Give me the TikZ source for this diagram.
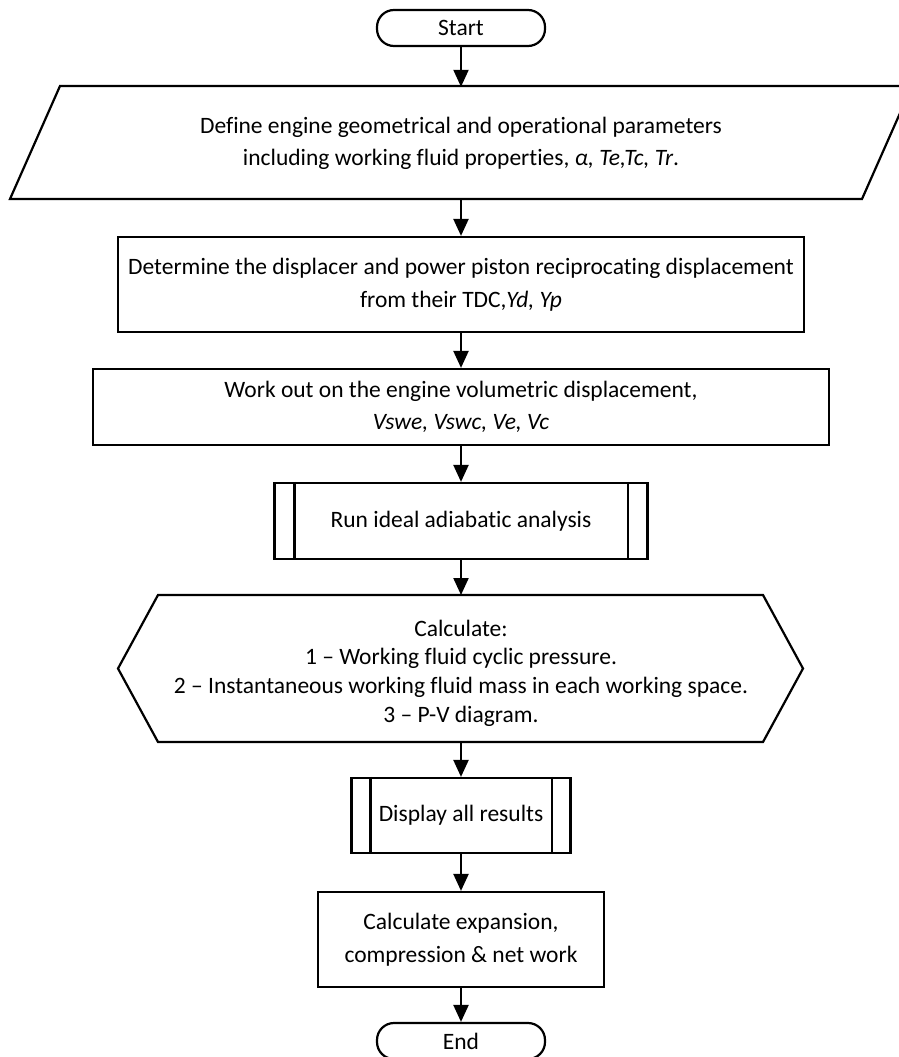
\documentclass[tikz,border=0pt]{standalone}
\usepackage{fontspec}
\setmainfont{Carlito}[Ligatures=NoCommon]
\usetikzlibrary{arrows.meta}
\begin{document}
\begin{tikzpicture}[x=1pt,y=-1pt,
  every node/.style={font=\fontsize{23.5}{32.5}\selectfont, align=center, inner sep=0pt},
  box/.style={draw, line width=2.2pt, rectangle},
  term/.style={draw, line width=2.2pt, rounded corners=17pt, minimum width=168pt, minimum height=36pt},
  flow/.style={line width=2.2pt, -{Triangle[length=17pt,width=15pt]}},
  outline/.style={draw, line width=2.2pt, line join=miter}]
\useasboundingbox (0,0) rectangle (898,1057);

\node[term] (start) at (461,28) {Start};

\node[minimum width=800pt, minimum height=113pt] (def) at (461,143.5)
  {Define engine geometrical and operational parameters\\
   including working fluid properties, \textit{α, Te,Tc, Tr}.};
\draw[outline] (60,86) -- (912,86) -- (862,199) -- (10,199) -- cycle;

\node[box, minimum width=686pt, minimum height=95pt] (det) at (461,284.5)
  {Determine the displacer and power piston reciprocating displacement\\
   from their TDC,\textit{Yd, Yp}};

\node[box, minimum width=736pt, minimum height=76pt] (work) at (461,407)
  {Work out on the engine volumetric displacement,\\
   \textit{Vswe, Vswc, Ve, Vc}};

\node[box, minimum width=373pt, minimum height=76pt] (run) at (461,521)
  {Run ideal adiabatic analysis};
\draw[outline] ([xshift=21pt]run.north west) -- ([xshift=21pt]run.south west);
\draw[outline] ([xshift=-21pt]run.north east) -- ([xshift=-21pt]run.south east);

\node[minimum width=645pt, minimum height=147pt, font=\fontsize{23.5}{28.7}\selectfont] (calc) at (461,673)
  {Calculate:\\
   1 – Working fluid cyclic pressure.\\
   2 – Instantaneous working fluid mass in each working space.\\
   3 – P-V diagram.};
\draw[outline] (158,595) -- (763,595) -- (803,668.5) -- (763,742) -- (158,742) -- (118,668.5) -- cycle;

\node[box, minimum width=219pt, minimum height=75pt] (disp) at (461,815.5)
  {Display all results};
\draw[outline] ([xshift=20pt]disp.north west) -- ([xshift=20pt]disp.south west);
\draw[outline] ([xshift=-20pt]disp.north east) -- ([xshift=-20pt]disp.south east);

\node[box, minimum width=286pt, minimum height=95pt] (work2) at (461,939.5)
  {Calculate expansion,\\ compression \& net work};

\node[term] (end) at (461,1041) {End};

\coordinate (calctop) at (461,595);
\coordinate (calcbot) at (461,742);
\draw[flow] (start) -- (def.north);
\draw[flow] (def.south) -- (det);
\draw[flow] (det) -- (work);
\draw[flow] (work) -- (run);
\draw[flow] (run) -- (calctop);
\draw[flow] (calcbot) -- (disp);
\draw[flow] (disp) -- (work2);
\draw[flow] (work2) -- (end);
\end{tikzpicture}
\end{document}
